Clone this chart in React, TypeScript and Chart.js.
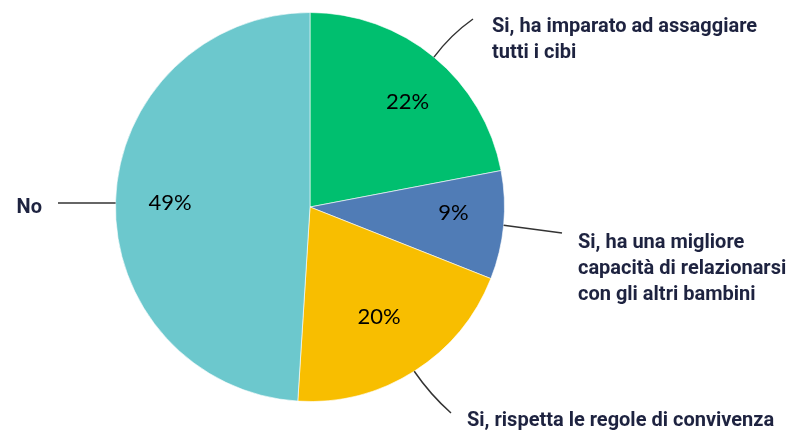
import React, { useEffect, useRef } from "react";
import { Chart, registerables } from "chart.js";

Chart.register(...registerables);

const categories = [
  ["Si, ha imparato ad assaggiare", "tutti i cibi"],
  ["Si, ha una migliore", "capacità di relazionarsi", "con gli altri bambini"],
  ["Si, rispetta le regole di convivenza"],
  ["No"],
];
const values = [22, 9, 20, 49];
const percentLabels = ["22%", "9%", "20%", "49%"];
const colors = ["#00BF6F", "#507CB6", "#F8BE00", "#6CC8CD"];

// layout of external labels: leader end point, text anchor, alignment
const leaderEnds = [
  [473, 19],
  [562, 233],
  [451, 413],
  [58, 203],
];
const leaderBend = [0.08, 0.0, -0.06, 0.0];
const textAnchors = [
  [492, 32, "left"],
  [578, 248, "left"],
  [467, 426, "left"],
  [42, 213, "right"],
];
const pctNudge = [
  [7, 4],
  [2, -7],
  [-7, -10],
  [2, 0],
];

const labelPlugin = {
  id: "outerLabels",
  afterDatasetsDraw(chart: any) {
    const ctx = chart.ctx;
    const meta = chart.getDatasetMeta(0);
    meta.data.forEach((arc: any, i: number) => {
      const p = arc.getProps(["x", "y", "startAngle", "endAngle", "outerRadius"], true);
      const mid = (p.startAngle + p.endAngle) / 2;
      const r = p.outerRadius;
      // percentage
      const f = 0.73;
      const px = p.x + Math.cos(mid) * r * f + pctNudge[i][0];
      const py = p.y + Math.sin(mid) * r * f + pctNudge[i][1];
      ctx.save();
      ctx.fillStyle = "#000000";
      ctx.font = "22px Lato, 'Open Sans', sans-serif";
      ctx.textAlign = "center";
      ctx.textBaseline = "middle";
      ctx.fillText(percentLabels[i], px, py);
      // leader line
      const sx = p.x + Math.cos(mid) * r;
      const [ex, ey] = leaderEnds[i];
      const sy = leaderBend[i] === 0 && i === 3 ? ey : p.y + Math.sin(mid) * r;
      ctx.strokeStyle = "#333333";
      ctx.lineWidth = 1.5;
      ctx.beginPath();
      ctx.moveTo(sx, sy);
      const b = leaderBend[i];
      const cx = (sx + ex) / 2 + (ey - sy) * b;
      const cy = (sy + ey) / 2 - (ex - sx) * b;
      ctx.quadraticCurveTo(cx, cy, ex, ey);
      ctx.stroke();
      // text
      const [tx, ty, align] = textAnchors[i] as [number, number, CanvasTextAlign];
      ctx.fillStyle = "#1E2340";
      ctx.font = "bold 20px Roboto, 'Liberation Sans', sans-serif";
      ctx.textAlign = align;
      ctx.textBaseline = "alphabetic";
      categories[i].forEach((line, k) => {
        ctx.fillText(line, tx, ty + k * 26);
      });
      ctx.restore();
    });
  },
};

export default function App() {
  const ref = useRef<HTMLCanvasElement>(null);
  useEffect(() => {
    if (!ref.current) return;
    const chart = new Chart(ref.current, {
      type: "pie",
      data: {
        labels: categories.map((c) => c.join(" ")),
        datasets: [
          {
            data: values,
            backgroundColor: colors,
            borderColor: "rgba(255,255,255,0.6)",
            borderWidth: 1,
          },
        ],
      },
      options: {
        responsive: false,
        animation: false,
        layout: { padding: { left: 115, right: 307, top: 12, bottom: 30 } },
        plugins: { legend: { display: false }, tooltip: { enabled: false } },
      },
      plugins: [labelPlugin],
    });
    return () => chart.destroy();
  }, []);
  return (
    <div style={{ position: "fixed", left: 0, top: 0, width: 812, height: 432, background: "#fff" }}>
      <canvas ref={ref} width={812} height={432} />
    </div>
  );
}
